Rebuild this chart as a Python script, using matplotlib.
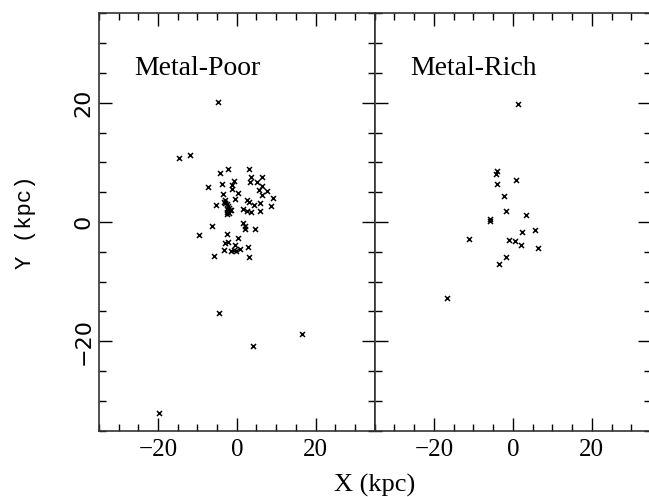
import matplotlib
matplotlib.use("Agg")
import matplotlib.pyplot as plt
from matplotlib.ticker import MultipleLocator

# Metal-poor sample (X, Y in kpc)
poor_x = [-4.7, -14.6, -11.8, 3.2, -2.2, -4.3, 3.7, 6.4, 3.3, -0.6, 5.2, -3.7, -1.2, -7.4,
          6.3, -1.2, 5.6, 7.7, 0.2, -3.4, 6.5, 9.2, -0.4, -2.9, 2.6, -5.2, -3.3, -2.4, 3.1,
          4.3, 5.8, 8.8, -2.0, -1.6, 1.5, 2.6, 3.7, 5.8, -2.4, -3.0, -2.4, -1.8, -2.2, -1.9,
          -2.6, -6.2, -9.6, -2.6, 1.7, 2.0, 2.2, 4.7, 0.2, -3.1, -2.3, -0.5, 2.9, -3.3, -1.4,
          -0.8, -0.3, 0.8, -5.7, 3.2, -4.5, 4.0, 16.5, -19.8]
poor_y = [20.2, 10.8, 11.2, 8.9, 8.9, 8.2, 7.6, 7.6, 6.7, 6.8, 6.7, 6.4, 6.2, 5.9,
          6.1, 5.6, 5.3, 5.2, 4.9, 4.7, 4.5, 4.1, 3.8, 3.7, 3.7, 2.9, 3.3, 3.0, 3.3,
          2.9, 3.2, 2.7, 2.3, 2.0, 2.2, 1.9, 1.6, 1.8, 1.4, 3.2, 1.7, 2.0, 2.6, 1.5,
          2.2, -0.7, -2.1, -2.0, -0.2, -0.7, -1.2, -1.2, -2.7, -3.5, -3.3, -3.8, -4.2, -4.7, -4.8,
          -4.7, -4.8, -4.6, -5.7, -5.8, -15.2, -20.8, -18.8, -32.0]

# Metal-rich sample (X, Y in kpc)
rich_x = [1.4, -3.9, -4.2, 0.9, -3.9, -2.3, -1.6, 3.4, -5.7, -5.9, -11.0, -1.0, 0.5,
          2.3, 5.5, 2.0, 6.5, -1.6, -3.4, -16.6]
rich_y = [19.8, 8.5, 8.0, 7.0, 6.3, 4.4, 1.9, 1.1, 0.5, 0.2, -2.8, -3.0, -3.2,
          -1.7, -1.4, -3.9, -4.3, -5.8, -7.1, -12.8]

panel_titles = ["Metal-Poor", "Metal-Rich"]
xticks = [-20, 0, 20]
yticks = [-20, 0, 20]

W, H = 649, 497
fig = plt.figure(figsize=(W / 100, H / 100), dpi=100)

bottom = 1 - 430.7 / H
top = 1 - 13.3 / H
height = top - bottom
x0 = 99 / W
xmid = 374.6 / W
xr = 651 / W

ax1 = fig.add_axes([x0, bottom, xmid - x0, height])
ax2 = fig.add_axes([xmid, bottom, xr - xmid, height])

serif = "Liberation Serif"

for ax, xs, ys, title in [(ax1, poor_x, poor_y, panel_titles[0]),
                          (ax2, rich_x, rich_y, panel_titles[1])]:
    ax.plot(xs, ys, linestyle="none", marker="x", markersize=3.6,
            markeredgewidth=1.1, color="black")
    ax.set_xlim(-35, 35)
    ax.set_ylim(-35, 35)
    ax.xaxis.set_minor_locator(MultipleLocator(5))
    ax.yaxis.set_minor_locator(MultipleLocator(5))
    ax.set_xticks(xticks)
    ax.set_yticks(yticks)
    ax.tick_params(which="both", direction="in", top=True, right=True,
                   bottom=True, left=True, color="black", width=1.0)
    ax.tick_params(which="major", length=9.5)
    ax.tick_params(which="minor", length=4.8)
    ax.tick_params(axis="x", which="major", pad=6)
    for sp in ax.spines.values():
        sp.set_linewidth(1.2)
        sp.set_color("#333333")
    ax.set_xticklabels([f"\u2212{abs(v)}" if v < 0 else str(v) for v in xticks],
                       fontfamily=serif, fontsize=18)
    ax.text(-26.0, 24.6, title, fontfamily=serif, fontsize=20,
            ha="left", va="baseline")

ax1.set_yticklabels([f"\u2212{abs(v)}" if v < 0 else str(v) for v in yticks],
                    fontfamily="DejaVu Sans", fontsize=16, rotation=90, va="center")
ax1.tick_params(axis="y", which="major", pad=4)
ax2.set_yticklabels([])

fig.text(xmid, 1 - 491.7 / H, "X (kpc)", fontfamily=serif, fontsize=19,
         ha="center", va="baseline")
fig.text(25 / W, 1 - 222 / H, "Y (kpc)", fontfamily="Liberation Mono", fontsize=16,
         rotation=90, ha="center", va="center")

fig.savefig("out.png", dpi=100)
